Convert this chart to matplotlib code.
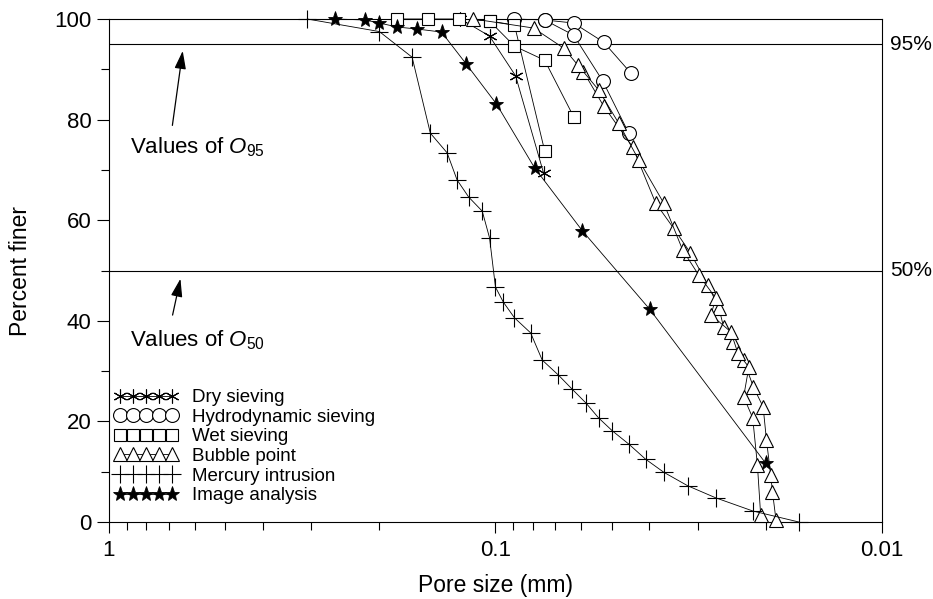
import matplotlib
matplotlib.use("Agg")
import matplotlib.pyplot as plt
from matplotlib.ticker import FixedLocator, FuncFormatter, NullFormatter
import numpy as np

plt.rcParams['font.family'] = ['Liberation Sans', 'DejaVu Sans']
plt.rcParams['mathtext.fontset'] = 'custom'
plt.rcParams['mathtext.rm'] = 'Liberation Sans'
plt.rcParams['mathtext.it'] = 'Liberation Sans:italic'

# pore size (mm) / percent finer, one pair of lists per test curve
dry_d = [0.1232, 0.1036, 0.0887, 0.0751]
dry_p = [100, 96.6, 88.7, 69.4]

hydro1_d = [0.0893, 0.0746, 0.0628, 0.0525, 0.0447]
hydro1_p = [100, 99.8, 99.2, 95.4, 89.3]
hydro2_d = [0.0746, 0.0628, 0.0528, 0.0452]
hydro2_p = [99.8, 96.8, 87.7, 77.3]

wet1_d = [0.1794, 0.1491, 0.1240, 0.1036, 0.0893, 0.0746]
wet1_p = [100, 100, 100, 99.6, 98.8, 73.8]
wet2_d = [0.1036, 0.0893, 0.0746, 0.0628]
wet2_p = [99.6, 94.6, 91.8, 80.6]

bub1_d = [0.1140, 0.0797, 0.0666, 0.0592, 0.0525, 0.0442, 0.0385, 0.0346, 0.0313,
          0.0282, 0.0264, 0.0257, 0.0243, 0.0228, 0.0215, 0.0203, 0.0199, 0.0194,
          0.0192, 0.0188]
bub1_p = [100, 98.2, 94.2, 89.5, 82.7, 74.6, 63.4, 58.4, 53.5, 47.1, 42.5, 38.8,
          35.8, 32.2, 26.8, 22.9, 16.3, 9.3, 6.0, 0.4]
bub2_d = [0.0613, 0.0541, 0.0480, 0.0426, 0.0367, 0.0328, 0.0298, 0.0269, 0.0277,
          0.0246, 0.0236, 0.0221, 0.0228, 0.0216, 0.0210, 0.0206]
bub2_p = [90.9, 85.9, 79.3, 72.0, 63.4, 54.1, 49.1, 44.5, 41.2, 37.8, 33.6, 30.8,
          24.9, 20.7, 11.3, 1.4]

merc_d = [0.3069, 0.1997, 0.1643, 0.1474, 0.1334, 0.1257, 0.1173, 0.1082, 0.1036,
          0.1000, 0.0954, 0.0893, 0.0811, 0.0757, 0.0687, 0.0633, 0.0584, 0.0541,
          0.0498, 0.0452, 0.0409, 0.0367, 0.0318, 0.0269, 0.0216, 0.0164]
merc_p = [100, 97.5, 92.4, 77.3, 73.4, 68.0, 64.6, 61.8, 56.5, 46.7, 43.7, 40.6,
          37.6, 32.2, 29.2, 26.4, 23.7, 20.7, 18.1, 15.5, 12.5, 9.9, 7.2, 4.8, 2.2, 0]

img_d = [0.2598, 0.2172, 0.1997, 0.1794, 0.1592, 0.1379, 0.1189, 0.0994, 0.0792,
         0.0596, 0.0399, 0.0200]
img_p = [100, 99.8, 99.2, 98.4, 98.0, 97.4, 91.0, 83.1, 70.4, 57.9, 42.3, 11.7]

labels = ['Dry sieving', 'Hydrodynamic sieving', 'Wet sieving', 'Bubble point',
          'Mercury intrusion', 'Image analysis']

fig = plt.figure(figsize=(9.33, 5.99), dpi=100)
ax = fig.add_axes([0.1168, 0.1285, 0.8285, 0.8398])

lw = 0.6
common = dict(color='black', lw=lw, clip_on=False, zorder=3)
open_mk = dict(mfc='white', mec='black', mew=0.8)

h_dry, = ax.plot(dry_d, dry_p, marker=(6, 2, 0), ms=10, mew=0.8, mec='black', **common)
h_hyd, = ax.plot(hydro1_d, hydro1_p, marker='o', ms=10, **open_mk, **common)
ax.plot(hydro2_d, hydro2_p, marker='o', ms=10, **open_mk, **common)
h_wet, = ax.plot(wet1_d, wet1_p, marker='s', ms=9, **open_mk, **common)
ax.plot(wet2_d, wet2_p, marker='s', ms=9, **open_mk, **common)
h_bub, = ax.plot(bub1_d, bub1_p, marker='^', ms=10, **open_mk, **common)
ax.plot(bub2_d, bub2_p, marker='^', ms=10, **open_mk, **common)
h_mer, = ax.plot(merc_d, merc_p, marker='+', ms=13, mew=0.8, mec='black', **common)
h_img, = ax.plot(img_d, img_p, marker='*', ms=11, mfc='black', mec='black', mew=0.6, **common)

# reference levels
for lev, txt in [(95, '95%'), (50, '50%')]:
    ax.axhline(lev, color='black', lw=0.8, zorder=2)
    ax.text(1.01, lev, txt, transform=ax.get_yaxis_transform(), fontsize=15,
            va='center', ha='left')

arrow = dict(arrowstyle='-|>,head_length=1.1,head_width=0.35', color='black', lw=0.9)
ax.annotate('', xy=(0.643, 94.2), xytext=(0.687, 78.3), arrowprops=arrow)
ax.annotate('', xy=(0.651, 48.9), xytext=(0.687, 40.6), arrowprops=arrow)
ax.text(0.882, 74.6, r'Values of $\mathit{O_{95}}$', fontsize=16, va='center', ha='left')
ax.text(0.882, 36.2, r'Values of $\mathit{O_{50}}$', fontsize=16, va='center', ha='left')

ax.set_xscale('log')
ax.set_xlim(1, 0.01)
ax.set_ylim(0, 100)
ax.xaxis.set_major_locator(FixedLocator([1, 0.1, 0.01]))
ax.xaxis.set_major_formatter(FuncFormatter(lambda v, pos: '%g' % v))
ax.xaxis.set_minor_formatter(NullFormatter())
ax.set_yticks([0, 20, 40, 60, 80, 100])
ax.set_yticks([10, 30, 50, 70, 90], minor=True)
ax.tick_params(axis='both', which='major', labelsize=16, width=0.8)
ax.tick_params(axis='x', which='major', length=8, pad=5)
ax.tick_params(axis='x', which='minor', length=5.5, width=0.8)
ax.tick_params(axis='y', which='major', length=9)
ax.tick_params(axis='y', which='minor', length=6, width=0.8)
for s in ax.spines.values():
    s.set_linewidth(0.8)

ax.set_xlabel('Pore size (mm)', fontsize=16.5, labelpad=9)
ax.set_ylabel('Percent finer', fontsize=16.5, labelpad=16)

ax.legend([h_dry, h_hyd, h_wet, h_bub, h_mer, h_img], labels, numpoints=5,
          frameon=False, fontsize=13.5, loc='upper left',
          bbox_to_anchor=(0.007, 0.264), borderaxespad=0, borderpad=0,
          handlelength=3.37, handletextpad=0.78, labelspacing=0.13)

fig.savefig('out.png', dpi=100)
